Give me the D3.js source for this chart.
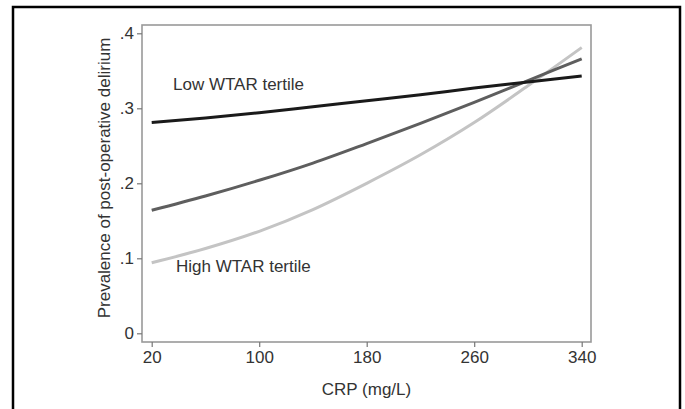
<!DOCTYPE html>
<html>
<head>
<meta charset="utf-8">
<script src="https://cdn.jsdelivr.net/npm/d3@7"></script>
<style>
  body { margin: 0; background: #fff; }
  svg { display: block; font-family: Arial, "Liberation Sans", sans-serif; }
  .tick text { fill: #333; }
  .tick line { stroke: #777; stroke-width: 1.2; }
</style>
</head>
<body>
<div id="chart"></div>
<script>
// CRP values where the curves were read
const crp = [20, 60, 100, 140, 180, 220, 260, 300, 340];
// predicted prevalence per WTAR tertile
const lowTertile  = [0.281, 0.287, 0.294, 0.302, 0.310, 0.318, 0.327, 0.335, 0.343];
const midTertile  = [0.164, 0.183, 0.204, 0.227, 0.253, 0.280, 0.308, 0.337, 0.366];
const highTertile = [0.094, 0.113, 0.136, 0.165, 0.200, 0.238, 0.281, 0.330, 0.381];
const xTicks = [20, 100, 180, 260, 340];
const yTicks = [0, 0.1, 0.2, 0.3, 0.4];

const width = 685, height = 409;
const frame = { left: 142, right: 591, top: 25, bottom: 342 };
const fontSize = 17;

const svg = d3.select('#chart').append('svg')
    .attr('width', width)
    .attr('height', height);

// outer border (open at the bottom, like the cropped figure)
svg.append('path')
    .attr('d', `M13,${height} V7 H680 V${height}`)
    .attr('fill', 'none')
    .attr('stroke', '#000')
    .attr('stroke-width', 2.5);

const x = d3.scaleLinear().domain([20, 340]).range([151.7, 581.7]);
const y = d3.scaleLinear().domain([0, 0.4]).range([333.3, 33.3]);

// plot region outline
svg.append('rect')
    .attr('x', frame.left)
    .attr('y', frame.top)
    .attr('width', frame.right - frame.left)
    .attr('height', frame.bottom - frame.top)
    .attr('fill', 'none')
    .attr('stroke', '#999')
    .attr('stroke-width', 1.6);

// axes
const fmt = d => d === 0 ? '0' : d3.format('.1f')(d).replace(/^0/, '');

svg.append('g')
    .attr('transform', `translate(${frame.left},0)`)
    .call(d3.axisLeft(y).tickValues(yTicks).tickFormat(fmt).tickSize(5).tickPadding(3))
    .call(g => g.select('.domain').remove())
    .call(g => g.selectAll('.tick text').attr('font-size', fontSize).attr('font-family', null));

svg.append('g')
    .attr('transform', `translate(0,${frame.bottom})`)
    .call(d3.axisBottom(x).tickValues(xTicks).tickSize(5).tickPadding(4))
    .call(g => g.select('.domain').remove())
    .call(g => g.selectAll('.tick text').attr('font-size', fontSize).attr('font-family', null));

// curves
const series = [
    { values: highTertile, color: '#c4c4c4' },
    { values: midTertile, color: '#5e5e5e' },
    { values: lowTertile, color: '#1a1a1a' }
];

const line = d3.line()
    .x((d, i) => x(crp[i]))
    .y(d => y(d))
    .curve(d3.curveMonotoneX);

svg.append('g')
    .selectAll('path')
    .data(series)
    .join('path')
    .attr('fill', 'none')
    .attr('stroke', d => d.color)
    .attr('stroke-width', 3)
    .attr('d', d => line(d.values));

// curve labels
svg.append('text')
    .attr('x', 173)
    .attr('y', 90)
    .attr('fill', '#333')
    .attr('font-size', fontSize)
    .text('Low WTAR tertile');

svg.append('text')
    .attr('x', 176)
    .attr('y', 272)
    .attr('fill', '#333')
    .attr('font-size', fontSize)
    .text('High WTAR tertile');

// axis titles
svg.append('text')
    .attr('x', (frame.left + frame.right) / 2)
    .attr('y', 395)
    .attr('text-anchor', 'middle')
    .attr('fill', '#333')
    .attr('font-size', fontSize)
    .text('CRP (mg/L)');

svg.append('text')
    .attr('transform', 'translate(110,178) rotate(-90)')
    .attr('text-anchor', 'middle')
    .attr('fill', '#333')
    .attr('font-size', fontSize)
    .text('Prevalence of post-operative delirium');
</script>
</body>
</html>
